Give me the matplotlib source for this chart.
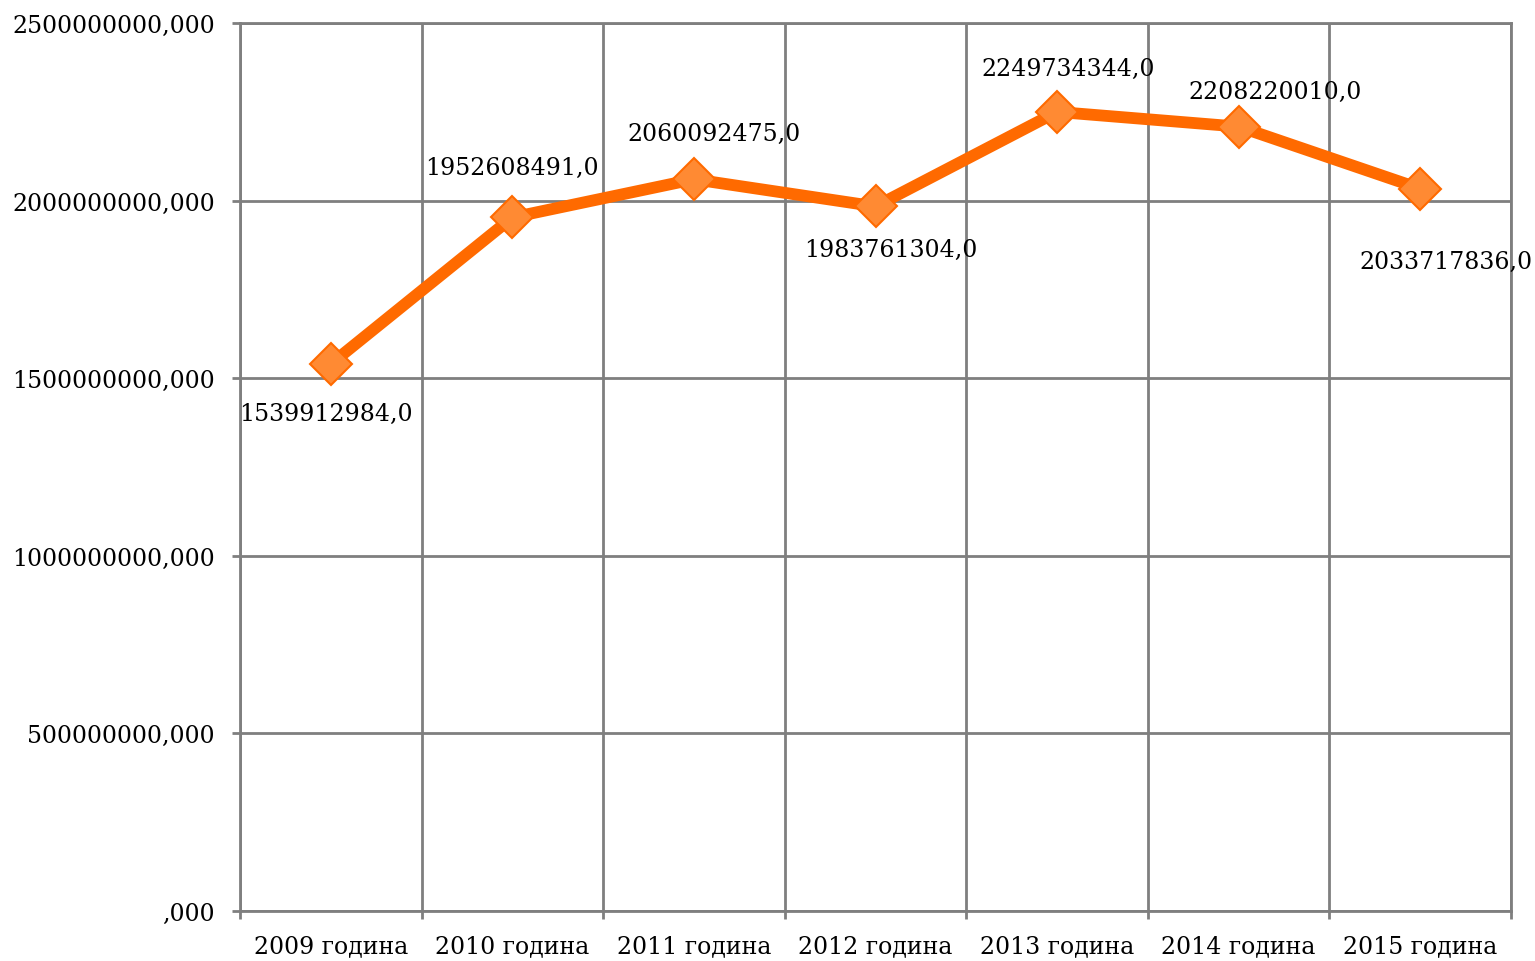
import matplotlib.pyplot as plt
from matplotlib.ticker import FuncFormatter, FixedLocator

years = ['2009 година', '2010 година', '2011 година', '2012 година',
         '2013 година', '2014 година', '2015 година']
values = [1539912984, 1952608491, 2060092475, 1983761304,
          2249734344, 2208220010, 2033717836]
labels = ['1539912984,0', '1952608491,0', '2060092475,0', '1983761304,0',
          '2249734344,0', '2208220010,0', '2033717836,0']
# label offsets from each point, in pixels
offsets = [(-5, -49), (0, 50), (20, 46), (15, -43), (11, 43), (36, 35), (26, -73)]

plt.rcParams['font.family'] = ['DejaVu Serif']

fig = plt.figure(figsize=(15.35, 9.62), dpi=100)
ax = fig.add_axes([240 / 1535, 1 - 912 / 962, 1271 / 1535, 888 / 962])

grid_col = '#7f7f7f'
x = [i + 0.5 for i in range(len(years))]

ax.plot(x, values, color='#ff6a00', lw=8.5, solid_capstyle='round', zorder=3,
        marker='D', markersize=21, markerfacecolor='#ff8a33',
        markeredgecolor='#ff6a00', markeredgewidth=1.5)

for xi, v, lab, (dx, dy) in zip(x, values, labels, offsets):
    ax.annotate(lab, (xi, v), xytext=(dx, dy), textcoords='offset pixels',
                ha='center', va='center', fontsize=17, color='black', zorder=4)

ax.set_xlim(0, len(years))
ax.set_ylim(0, 2.5e9)
ax.set_yticks([0, 5e8, 1e9, 1.5e9, 2e9, 2.5e9])
ax.yaxis.set_major_formatter(FuncFormatter(lambda v, p: f'{int(v)},000' if v else ',000'))

ax.xaxis.set_major_locator(FixedLocator(range(len(years) + 1)))
ax.xaxis.set_minor_locator(FixedLocator(x))
ax.set_xticklabels([])
ax.set_xticklabels(years, minor=True)
ax.tick_params(axis='x', which='major', length=6, width=2, color=grid_col, direction='out')
ax.tick_params(axis='x', which='minor', length=0, pad=17, labelsize=17)
ax.tick_params(axis='y', length=6, width=2, color=grid_col, direction='out',
               labelsize=17, pad=12)

ax.grid(True, which='major', color=grid_col, lw=2)
ax.set_axisbelow(True)
for s in ax.spines.values():
    s.set_color(grid_col)
    s.set_linewidth(2)

fig.savefig('out.png', dpi=100)
